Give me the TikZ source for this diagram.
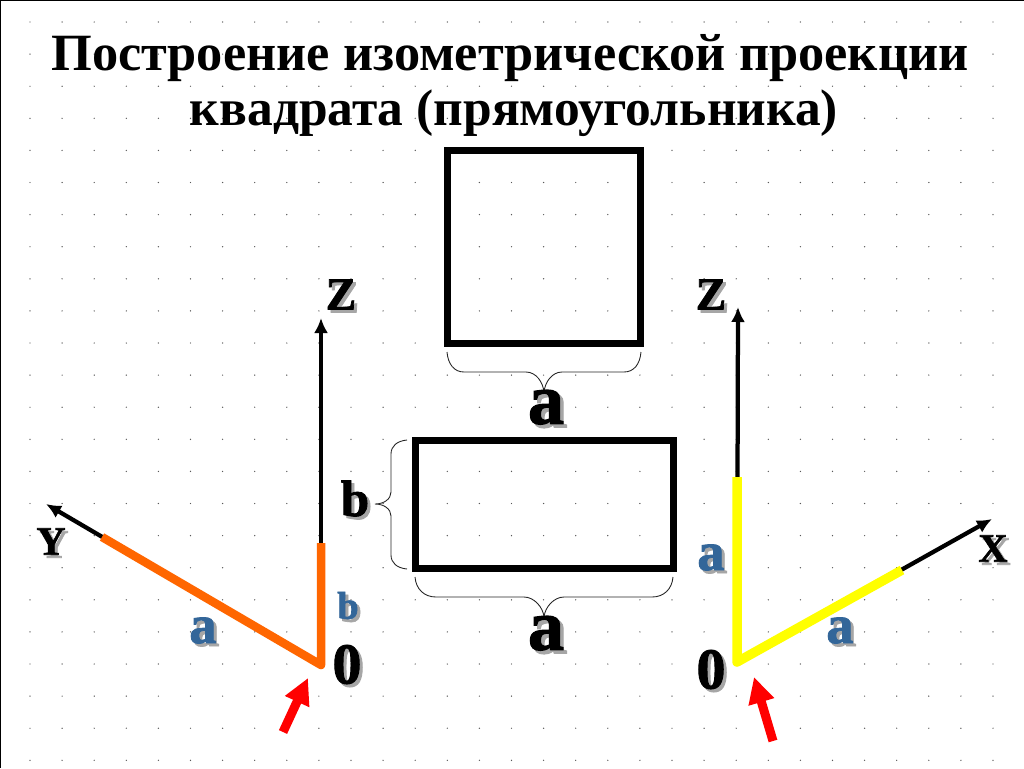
\documentclass[tikz,border=0pt]{standalone}
\usepackage{fontspec}
\usepackage{tikz}
\usetikzlibrary{arrows.meta, positioning, calc}
\setmainfont{Liberation Serif}
\newfontfamily\heavyfont[FakeBold=1.6]{Liberation Serif Bold}
\definecolor{shadowgray}{HTML}{A6A6A6}
\definecolor{labelblue}{HTML}{336699}
\definecolor{axisorange}{HTML}{FF6600}
\definecolor{axisyellow}{HTML}{FFFF00}
\newcommand{\shtext}[2][1.7pt]{\makebox[0pt][l]{\kern#1\raisebox{-#1}{\textcolor{shadowgray}{#2}}}#2}

\begin{document}
\begin{tikzpicture}[x=0.02cm, y=-0.02cm]
                \tikzset{
                    figbox/.style={draw, line width=0.14cm, inner sep=0pt, outer sep=0pt, anchor=north west},
                    bracket/.style={line width=0.5pt, black!85},
                    axisline/.style={line width=0.085cm, -{Latex[length=0.3cm, width=0.28cm]}},
                    sizeline/.style={line width=0.17cm, line join=round},
                    pointer/.style={line width=0.18cm, red, -{Triangle[length=0.52cm, width=0.5cm]}},
                    titleline/.style={font=\fontsize{29.8}{31}\selectfont\bfseries, inner sep=0pt},
                    biglabel/.style={font=\fontsize{41}{41}\selectfont\heavyfont, inner sep=0pt},
                    axlabel/.style={font=\fontsize{26}{26}\selectfont\heavyfont, inner sep=0pt},
                    zerolabel/.style={font=\fontsize{33}{33}\selectfont\heavyfont, inner sep=0pt},
                    bluelabel/.style={font=\fontsize{31}{31}\selectfont\heavyfont, inner sep=0pt, text=labelblue}
                }

                \useasboundingbox (0,0) rectangle (1024,768);
                \fill[white] (0,0) rectangle (1024,768);
                \foreach \i in {0,...,30} {
                    \foreach \j in {0,...,23} {
                        \fill[black!65] ({30+32.1*\i},{22+32.1*\j}) circle (0.014cm);
                    }
                }
                \draw[line width=0.04cm] (0,768) -- (0,0) -- (1024,0);

                \node[titleline] (title1) at (510,58) {Построение изометрической проекции};
                \node[titleline, font=\fontsize{29.3}{31}\selectfont\bfseries] (title2) at (514,113) {квадрата (прямоугольника)};

                \node[figbox, minimum width=3.86cm, minimum height=3.86cm] (square) at (447.5,150.5) {};
                \node[figbox, minimum width=5.18cm, minimum height=2.58cm] (rect) at (415,440) {};

                \draw[bracket] (447,352) .. controls (448,364) and (454,372) .. (464,372) -- (526,372) .. controls (536,372) and (543,382) .. (544,392) .. controls (545,382) and (552,372) .. (562,372) -- (624,372) .. controls (634,372) and (640,364) .. (641,352);
                \draw[bracket] (415,577) .. controls (416,589) and (424,597) .. (436,597) -- (524,597) .. controls (534,597) and (543,607) .. (544,617) .. controls (545,607) and (554,597) .. (564,597) -- (652,597) .. controls (664,597) and (672,589) .. (673,577);
                \draw[bracket] (407,440) .. controls (397,441) and (391,446) .. (391,454) -- (391,492) .. controls (391,499) and (384,504) .. (375,504) .. controls (384,504) and (391,509) .. (391,516) -- (391,555) .. controls (391,563) and (397,568) .. (407,569);

                \node[biglabel] (sqa) at (546,409) {\shtext[2pt]{a}};
                \node[biglabel] (recta) at (546,635) {\shtext[2pt]{a}};
                \node[biglabel, font=\fontsize{29}{29}\selectfont\heavyfont] (rectb) at (355,500) {\shtext{b}};

                \coordinate (ol) at (321,665);
                \coordinate (zl) at (321,318);
                \coordinate (zlb) at (321,543);
                \coordinate (yl) at (46,504);
                \coordinate (yla) at (102,537);
                \coordinate (or) at (737,662);
                \coordinate (zr) at (738,307);
                \coordinate (zra) at (737,477);
                \coordinate (xr) at (992,519);
                \coordinate (xra) at (902,570);

                \draw[axisline] (ol) -- (zl);
                \draw[axisline] (ol) -- (yl);
                \draw[axisline] (or) -- (zr);
                \draw[axisline] (or) -- (xr);
                \draw[sizeline, axisorange] (yla) -- (ol) -- (zlb);
                \draw[sizeline, axisyellow, line width=0.19cm] (xra) -- (or) -- (zra);

                \node[axlabel] (zleft) at (341,296) {\shtext{Z}};
                \node[axlabel] (zright) at (711,296) {\shtext{Z}};
                \node[axlabel, font=\fontsize{23}{23}\selectfont\heavyfont] (yleft) at (51,543) {\shtext{Y}};
                \node[axlabel, font=\fontsize{23}{23}\selectfont\heavyfont] (xright) at (993,550) {\shtext{X}};
                \node[zerolabel] (zeroleft) at (347,666) {\shtext{0}};
                \node[zerolabel] (zeroright) at (711,671) {\shtext{0}};

                \node[bluelabel] (ya) at (203,632) {\shtext{a}};
                \node[bluelabel, font=\fontsize{22}{22}\selectfont\heavyfont] (zb) at (348,607) {\shtext{b}};
                \node[bluelabel] (za) at (711,559) {\shtext{a}};
                \node[bluelabel] (xa) at (840,632) {\shtext{a}};

                \coordinate (pl) at (283,732);
                \coordinate (plt) at (308,678);
                \coordinate (pr) at (773,741);
                \coordinate (prt) at (754,677);
                \draw[pointer] (pl) -- (plt);
                \draw[pointer] (pr) -- (prt);
            \end{tikzpicture}
\end{document}
